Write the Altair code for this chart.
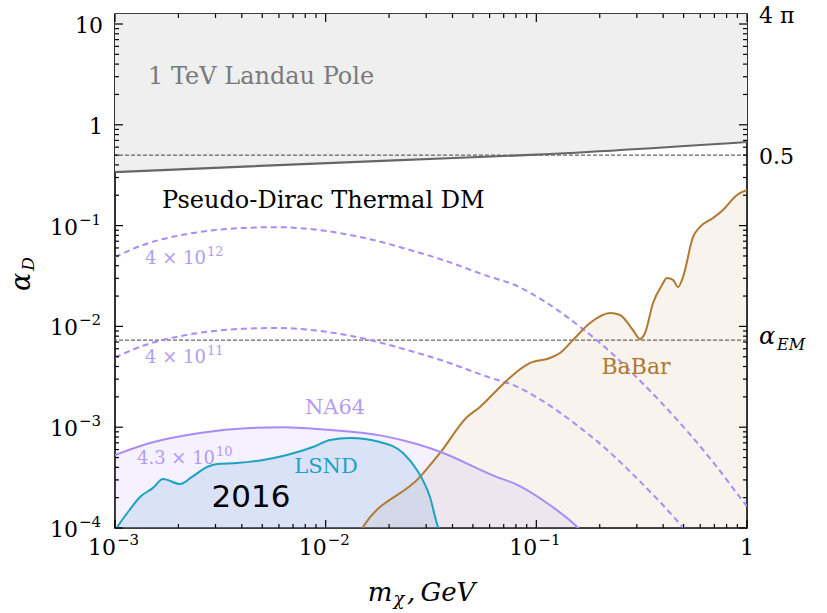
import math
import altair as alt
import pandas as pd

# ---------------- data ----------------
FOUR_PI = 4 * math.pi
ALPHA_EM = 1 / 137.036

landau_x = [0.001, 0.0226, 0.1, 1.0]
landau_y = [0.34, 0.447, 0.505, 0.675]

th12_x = [0.001, 0.001358, 0.002346, 0.00405, 0.005875, 0.00843, 0.01456, 0.02514,
          0.03606, 0.06026, 0.0775, 0.1123, 0.1612, 0.2165, 0.2875, 0.3864, 0.5189,
          0.6897, 0.957, 1.0]
th12_y = [0.0488, 0.0642, 0.0844, 0.0947, 0.0965, 0.0925, 0.0771, 0.0573,
          0.0456, 0.031, 0.0262, 0.01707, 0.00991, 0.00597, 0.0034, 0.00181, 9.19e-4,
          4.51e-4, 1.85e-4, 1.65e-4]

th11_x = [0.001, 0.001358, 0.002346, 0.00405, 0.005875, 0.00843, 0.01456, 0.02514,
          0.03606, 0.06026, 0.0775, 0.1123, 0.1612, 0.2165, 0.2875, 0.3864, 0.5189]
th11_y = [0.00492, 0.00642, 0.00844, 0.00947, 0.00965, 0.00925, 0.00771, 0.00573,
          0.00456, 0.0031, 0.00262, 0.00171, 0.00099, 5.97e-4, 3.4e-4, 1.81e-4, 9.2e-5]

na64_x = [0.001, 0.001466, 0.00253, 0.00437, 0.00627, 0.0105, 0.0187, 0.0271,
          0.0349, 0.0651, 0.0775, 0.1123, 0.158, 0.17]
na64_y = [5.3e-4, 6.97e-4, 8.76e-4, 9.82e-4, 1.0e-3, 9.4e-4, 8.2e-4, 6.8e-4,
          5.7e-4, 3.2e-4, 2.8e-4, 1.77e-4, 1.0e-4, 8.5e-5]

lsnd_x = [0.00102, 0.001056, 0.00117, 0.001314, 0.001515, 0.00169, 0.002035, 0.00232,
          0.002733, 0.00305, 0.003794, 0.00504, 0.00655, 0.00871, 0.01049, 0.01305,
          0.01811, 0.02328, 0.0271, 0.03127, 0.03415, 0.035]
lsnd_y = [1.0e-4, 1.12e-4, 1.5e-4, 2.03e-4, 2.5e-4, 3.06e-4, 2.73e-4, 3.21e-4,
          4.03e-4, 4.32e-4, 4.41e-4, 4.73e-4, 5.3e-4, 6.36e-4, 7.46e-4, 7.82e-4,
          7.13e-4, 5.55e-4, 3.76e-4, 2.03e-4, 1.02e-4, 9.0e-5]

babar_x = [0.0145, 0.01504, 0.02804, 0.0349, 0.0469, 0.054, 0.0651, 0.0775, 0.0933,
           0.1161, 0.1295, 0.1493, 0.1798, 0.2237, 0.2495, 0.2875, 0.3105, 0.328,
           0.358, 0.395, 0.417, 0.4454, 0.4705, 0.497, 0.5544, 0.598, 0.6897, 0.769,
           0.8965, 1.0]
babar_y = [9.0e-5, 1.02e-4, 3.21e-4, 5.55e-4, 1.26e-3, 1.59e-3, 2.34e-3, 3.3e-3, 4.34e-3,
           4.86e-3, 5.45e-3, 7.33e-3, 0.0108, 0.01358, 0.01298, 0.00921, 7.5e-3, 8.6e-3,
           0.01707, 0.02575, 0.0302, 0.0289, 0.0246, 0.0309, 0.0771, 0.0969, 0.119, 0.1429,
           0.2012, 0.2256]

hlines = [0.5, ALPHA_EM]

# tick values and labels
x_major = [1e-3, 1e-2, 1e-1, 1.0]
y_major = [1e-4, 1e-3, 1e-2, 1e-1, 1.0, 10.0]
x_minor = [k * d for d in [1e-3, 1e-2, 1e-1] for k in range(2, 10)]
y_minor = [k * d for d in [1e-4, 1e-3, 1e-2, 1e-1, 1.0] for k in range(2, 10)]

x_pow_vals = [1e-3, 1e-2, 1e-1]
x_pow_exps = ["−3", "−2", "−1"]
x_plain_vals = [1.0]
x_plain_txt = ["1"]
y_pow_vals = [1e-4, 1e-3, 1e-2, 1e-1]
y_pow_exps = ["−4", "−3", "−2", "−1"]
y_plain_vals = [1.0, 10.0]
y_plain_txt = ["1", "10"]

# ---------------- styling ----------------
W, H = 632, 514
SERIF = "DejaVu Serif"
PURPLE = "#a98bf7"
PURPLE_TXT = "#b39cf5"
TEAL = "#1ba3bf"
BROWN = "#b07a32"
GREY_LINE = "#666666"
INTERP = "monotone"

xs = alt.Scale(type="log", domain=[1e-3, 1.0], nice=False)
ys = alt.Scale(type="log", domain=[1e-4, FOUR_PI], nice=False)


def df(x, y, **extra):
    d = pd.DataFrame({"x": x, "y": y})
    for k, v in extra.items():
        d[k] = v
    return d


X = lambda: alt.X("x:Q", scale=xs, axis=None)
Y = lambda: alt.Y("y:Q", scale=ys, axis=None)

# Landau pole region
landau_df = df(landau_x, landau_y, top=FOUR_PI)
landau_fill = alt.Chart(landau_df).mark_area(color="#efefef", clip=True, interpolate=INTERP).encode(
    x=X(), y=Y(), y2="top:Q")
landau_line = alt.Chart(landau_df).mark_line(color=GREY_LINE, strokeWidth=2.2, clip=True,
                                             interpolate=INTERP).encode(x=X(), y=Y())


def region(xv, yv, fill, fill_op, line_col):
    d = df(xv, yv, bot=1e-4)
    f = alt.Chart(d).mark_area(color=fill, opacity=fill_op, clip=True, interpolate=INTERP).encode(
        x=X(), y=Y(), y2="bot:Q")
    l = alt.Chart(d).mark_line(color=line_col, strokeWidth=2, clip=True, interpolate=INTERP).encode(
        x=X(), y=Y())
    return f, l


babar_fill, babar_line = region(babar_x, babar_y, BROWN, 0.09, BROWN)
na64_fill, na64_line = region(na64_x, na64_y, PURPLE, 0.12, PURPLE)
lsnd_fill, lsnd_line = region(lsnd_x, lsnd_y, "#7aaee0", 0.22, TEAL)

th12 = alt.Chart(df(th12_x, th12_y)).mark_line(color=PURPLE, strokeWidth=2, strokeDash=[6, 4], clip=True,
                                               interpolate=INTERP).encode(x=X(), y=Y())
th11 = alt.Chart(df(th11_x, th11_y)).mark_line(color=PURPLE, strokeWidth=2, strokeDash=[6, 4], clip=True,
                                               interpolate=INTERP).encode(x=X(), y=Y())

hl = alt.Chart(pd.DataFrame({"y": hlines})).mark_rule(color=GREY_LINE, strokeWidth=1.3,
                                                       strokeDash=[4, 2]).encode(y=Y())


# inward ticks on all four sides
def yticks(vals, length):
    d = pd.DataFrame({"y": vals})
    l = alt.Chart(d).mark_rule(color="black", strokeWidth=1.2).encode(y=Y(), x=alt.value(0), x2=alt.value(length))
    r = alt.Chart(d).mark_rule(color="black", strokeWidth=1.2).encode(y=Y(), x=alt.value(W), x2=alt.value(W - length))
    return [l, r]


def xticks(vals, length):
    d = pd.DataFrame({"x": vals})
    b = alt.Chart(d).mark_rule(color="black", strokeWidth=1.2).encode(x=X(), y=alt.value(H), y2=alt.value(H - length))
    t = alt.Chart(d).mark_rule(color="black", strokeWidth=1.2).encode(x=X(), y=alt.value(0), y2=alt.value(length))
    return [b, t]


ticks = yticks(y_major, 8) + yticks(y_minor, 4) + xticks(x_major, 8) + xticks(x_minor, 4)

# tick labels (as text, with real superscripts)
BASE_FS, EXP_FS = 22, 15
xl_base = alt.Chart(pd.DataFrame({"x": x_pow_vals})).mark_text(
    text="10", font=SERIF, fontSize=BASE_FS, align="right", baseline="middle", dx=1).encode(
    x=X(), y=alt.value(H + 20))
xl_exp = alt.Chart(pd.DataFrame({"x": x_pow_vals, "t": x_pow_exps})).mark_text(
    font=SERIF, fontSize=EXP_FS, align="left", baseline="middle", dx=2).encode(
    x=X(), y=alt.value(H + 12), text="t:N")
xl_plain = alt.Chart(pd.DataFrame({"x": x_plain_vals, "t": x_plain_txt})).mark_text(
    font=SERIF, fontSize=BASE_FS, align="center", baseline="middle").encode(
    x=X(), y=alt.value(H + 20), text="t:N")
yl_base = alt.Chart(pd.DataFrame({"y": y_pow_vals})).mark_text(
    text="10", font=SERIF, fontSize=BASE_FS, align="right", baseline="middle", dy=2).encode(
    y=Y(), x=alt.value(-37))
yl_exp = alt.Chart(pd.DataFrame({"y": y_pow_vals, "t": y_pow_exps})).mark_text(
    font=SERIF, fontSize=EXP_FS, align="left", baseline="middle", dy=-6).encode(
    y=Y(), x=alt.value(-36), text="t:N")
yl_plain = alt.Chart(pd.DataFrame({"y": y_plain_vals, "t": y_plain_txt})).mark_text(
    font=SERIF, fontSize=BASE_FS, align="right", baseline="middle", dy=2).encode(
    y=Y(), x=alt.value(-12), text="t:N")

one = alt.Data(values=[{}])


def txt(s, x, y, size, color="black", font=SERIF, align="left", angle=0, style="normal"):
    return alt.Chart(one).mark_text(text=s, font=font, fontSize=size, color=color, align=align,
                                    baseline="middle", angle=angle, fontStyle=style).encode(
        x=alt.value(x), y=alt.value(y))


# right side labels at data heights
right_df = pd.DataFrame({"y": [FOUR_PI, 0.5], "t": ["4 π", "0.5"]})
right_lbl = alt.Chart(right_df).mark_text(font=SERIF, fontSize=22, align="left", baseline="middle",
                                          color="black", dy=2).encode(y=Y(), x=alt.value(W + 12), text="t:N")
aem_df = pd.DataFrame({"y": [ALPHA_EM]})
aem_a = alt.Chart(aem_df).mark_text(text="α", font=SERIF, fontSize=24, fontStyle="italic", align="left",
                                    baseline="middle", dy=-3).encode(y=Y(), x=alt.value(W + 12))
aem_s = alt.Chart(aem_df).mark_text(text="EM", font=SERIF, fontSize=16, fontStyle="italic", align="left",
                                    baseline="middle", dy=5).encode(y=Y(), x=alt.value(W + 30))

texts = [
    txt("1 TeV Landau Pole", 33, 63, 24, color="#7a7a7a"),
    txt("Pseudo-Dirac Thermal DM", 47, 187, 24),
    txt("4 × 10", 30, 245, 18, color=PURPLE_TXT),
    txt("12", 92, 238, 13, color=PURPLE_TXT),
    txt("4 × 10", 30, 344, 18, color=PURPLE_TXT),
    txt("11", 92, 337, 13, color=PURPLE_TXT),
    txt("NA64", 220, 394, 21, color=PURPLE_TXT, align="center"),
    txt("4.3 × 10", 22, 445, 18, color=PURPLE_TXT),
    txt("10", 101, 438, 13, color=PURPLE_TXT),
    txt("LSND", 211, 453, 21, color=TEAL, align="center"),
    txt("2016", 136, 484, 31, font="DejaVu Sans", align="center"),
    txt("BaBar", 521, 353, 22, color=BROWN, align="center"),
    # axis titles
    txt("α", -93, 268, 27, align="center", angle=270, style="italic"),
    txt("D", -86, 250, 17, align="center", angle=270, style="italic"),
    txt("m", 265, 579, 26, align="center", style="italic"),
    txt("χ", 284, 586, 18, align="center", style="italic"),
    txt(",\u2009GeV", 292, 579, 26, style="italic"),
]

chart = alt.layer(
    landau_fill, babar_fill, na64_fill, lsnd_fill,
    hl, th12, th11, landau_line, babar_line, na64_line, lsnd_line,
    *ticks, xl_base, xl_exp, xl_plain, yl_base, yl_exp, yl_plain,
    right_lbl, aem_a, aem_s, *texts,
).properties(
    width=W, height=H,
    autosize=alt.AutoSizeParams(type="none"),
    padding={"left": 115, "top": 14, "right": 80, "bottom": 85},
).configure_view(stroke="black", strokeWidth=1.6)

chart.save("out.html", embed_options={"renderer": "svg", "actions": False})
